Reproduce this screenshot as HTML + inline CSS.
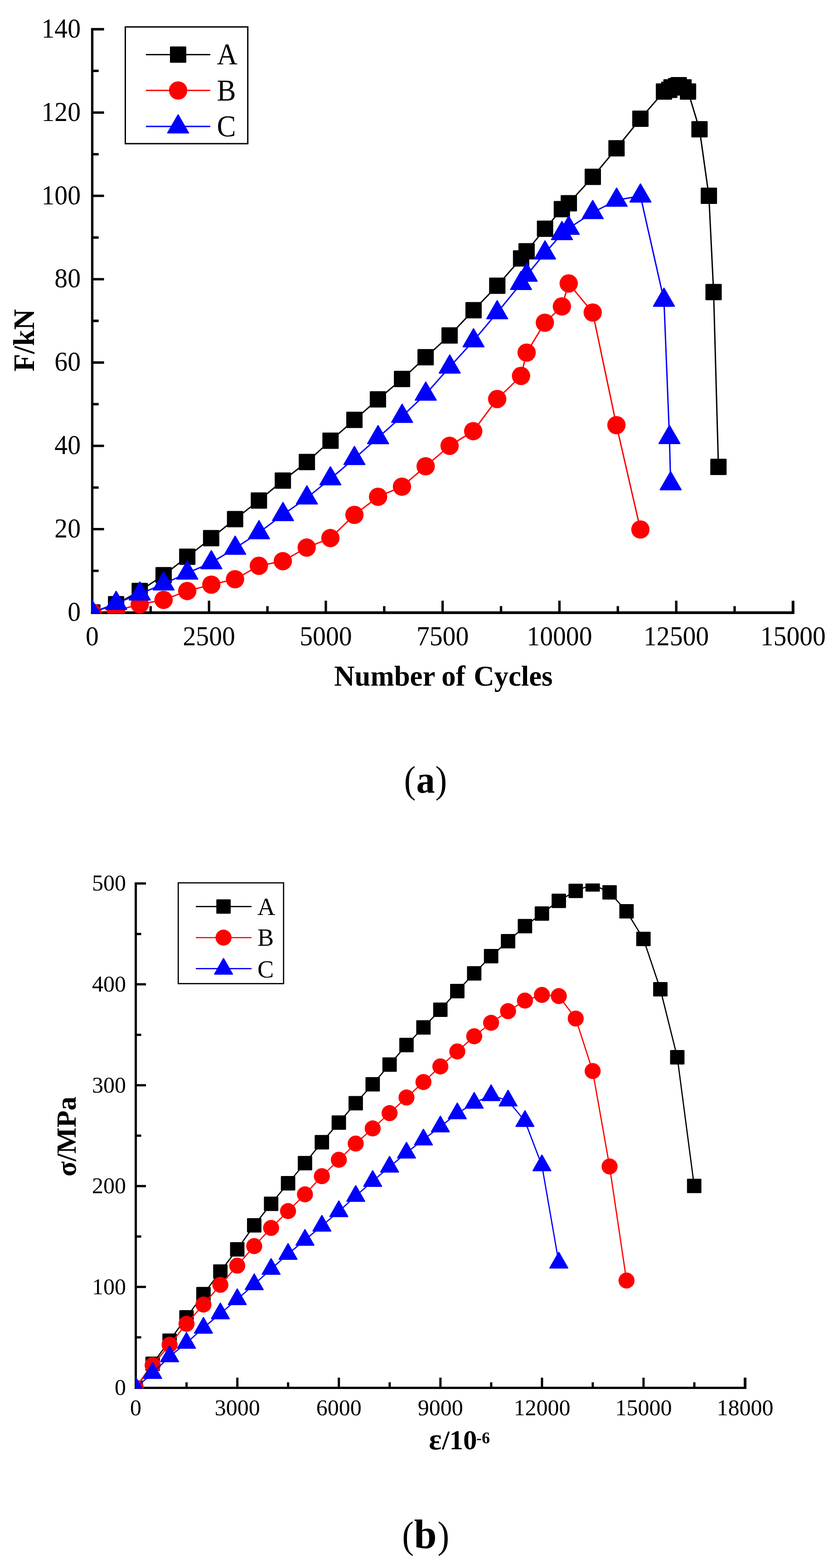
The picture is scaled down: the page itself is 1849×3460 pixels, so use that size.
<!DOCTYPE html>
<html lang="en">
<head>
<meta charset="utf-8">
<title>Load and stress curves</title>
<style>
html,body{margin:0;padding:0;background:#fff;}
body{width:1849px;height:3460px;overflow:hidden;}
svg{display:block;}
text{font-family:"Liberation Serif", serif;fill:#000;}
</style>
</head>
<body>
<svg width="1849" height="3460" viewBox="0 0 1849 3460">
<rect x="0" y="0" width="1849" height="3460" fill="#fff"/>
<defs>
<clipPath id="clipA"><rect x="202.8" y="63.5" width="1550" height="1290.5"/></clipPath>
<clipPath id="clipB"><rect x="298.9" y="1949.6" width="1348.1" height="1114.7"/></clipPath>
</defs>
<!-- chart (a) axes -->
<g stroke="#000" stroke-width="5.3" fill="none" stroke-linecap="butt">
<path d="M229.5,64.5 L203.5,64.5 L203.5,1355"/>
<path stroke-width="5.9" d="M200.8,1352 L1752.8,1352"/>
<path stroke-width="6.1" d="M1749.8,1352 L1749.8,1325.6"/>
<path d="M203.5,1259.7 h14.2 M203.5,1167.7 h26 M203.5,1075.8 h14.2 M203.5,983.9 h26 M203.5,891.9 h14.2 M203.5,800 h26 M203.5,708 h14.2 M203.5,616.1 h26 M203.5,524.2 h14.2 M203.5,432.2 h26 M203.5,340.3 h14.2 M203.5,248.4 h26 M203.5,156.4 h14.2 M332.4,1351.6 v-14.2 M461.2,1351.6 v-26 M590.1,1351.6 v-14.2 M718.9,1351.6 v-26 M847.8,1351.6 v-14.2 M976.6,1351.6 v-26 M1105.5,1351.6 v-14.2 M1234.4,1351.6 v-26 M1363.2,1351.6 v-14.2 M1492.1,1351.6 v-26 M1620.9,1351.6 v-14.2"/>
</g>
<!-- chart (a) tick labels -->
<g>
<text transform="translate(178,1369.9) scale(0.995,1.045)" font-size="58" text-anchor="end">0</text><text transform="translate(178,1186) scale(0.995,1.045)" font-size="58" text-anchor="end">20</text><text transform="translate(178,1002.2) scale(0.995,1.045)" font-size="58" text-anchor="end">40</text><text transform="translate(178,818.3) scale(0.995,1.045)" font-size="58" text-anchor="end">60</text><text transform="translate(178,634.4) scale(0.995,1.045)" font-size="58" text-anchor="end">80</text><text transform="translate(178,450.5) scale(0.995,1.045)" font-size="58" text-anchor="end">100</text><text transform="translate(178,266.7) scale(0.995,1.045)" font-size="58" text-anchor="end">120</text><text transform="translate(178,82.8) scale(0.995,1.045)" font-size="58" text-anchor="end">140</text>
<text transform="translate(203.5,1423.7) scale(0.995,1.045)" font-size="58" text-anchor="middle">0</text><text transform="translate(461.2,1423.7) scale(0.995,1.045)" font-size="58" text-anchor="middle">2500</text><text transform="translate(718.9,1423.7) scale(0.995,1.045)" font-size="58" text-anchor="middle">5000</text><text transform="translate(976.6,1423.7) scale(0.995,1.045)" font-size="58" text-anchor="middle">7500</text><text transform="translate(1234.4,1423.7) scale(0.995,1.045)" font-size="58" text-anchor="middle">10000</text><text transform="translate(1492.1,1423.7) scale(0.995,1.045)" font-size="58" text-anchor="middle">12500</text><text transform="translate(1749.8,1423.7) scale(0.995,1.045)" font-size="58" text-anchor="middle">15000</text>
</g>
<!-- chart (a) series -->
<g clip-path="url(#clipA)">
<polyline fill="none" stroke="#000" stroke-width="3" stroke-linejoin="round" points="203.7,1351.6 256.2,1333.2 308.3,1304.1 361,1269.2 413.2,1228.6 465.9,1187.6 518.7,1145.6 571.3,1104.4 624.1,1060.5 677.1,1019.5 729.3,972.5 782,926.4 833.9,881.3 887.1,836.3 939.1,788.3 992,740.3 1044.9,684.5 1097.2,630.4 1149.8,570.2 1161.9,554.4 1202.6,504.7 1239.7,461.6 1255.1,448.5 1308,390.2 1360.3,327.3 1413,262 1465,201.9 1476.7,198.2 1481.7,192.7 1492,189.9 1497.6,187.9 1508.1,192.7 1518.1,201.9 1543.4,285.2 1564.1,432.1 1574.5,644.4 1585.2,1030.3"/>
<g fill="#000"><rect x="185.7" y="1333.6" width="36" height="36" rx="1.6"/><rect x="238.2" y="1315.2" width="36" height="36" rx="1.6"/><rect x="290.3" y="1286.1" width="36" height="36" rx="1.6"/><rect x="343" y="1251.2" width="36" height="36" rx="1.6"/><rect x="395.2" y="1210.6" width="36" height="36" rx="1.6"/><rect x="447.9" y="1169.6" width="36" height="36" rx="1.6"/><rect x="500.7" y="1127.6" width="36" height="36" rx="1.6"/><rect x="553.3" y="1086.4" width="36" height="36" rx="1.6"/><rect x="606.1" y="1042.5" width="36" height="36" rx="1.6"/><rect x="659.1" y="1001.5" width="36" height="36" rx="1.6"/><rect x="711.3" y="954.5" width="36" height="36" rx="1.6"/><rect x="764" y="908.4" width="36" height="36" rx="1.6"/><rect x="815.9" y="863.3" width="36" height="36" rx="1.6"/><rect x="869.1" y="818.3" width="36" height="36" rx="1.6"/><rect x="921.1" y="770.3" width="36" height="36" rx="1.6"/><rect x="974" y="722.3" width="36" height="36" rx="1.6"/><rect x="1026.9" y="666.5" width="36" height="36" rx="1.6"/><rect x="1079.2" y="612.4" width="36" height="36" rx="1.6"/><rect x="1131.8" y="552.2" width="36" height="36" rx="1.6"/><rect x="1143.9" y="536.4" width="36" height="36" rx="1.6"/><rect x="1184.6" y="486.7" width="36" height="36" rx="1.6"/><rect x="1221.7" y="443.6" width="36" height="36" rx="1.6"/><rect x="1237.1" y="430.5" width="36" height="36" rx="1.6"/><rect x="1290" y="372.2" width="36" height="36" rx="1.6"/><rect x="1342.3" y="309.3" width="36" height="36" rx="1.6"/><rect x="1395" y="244" width="36" height="36" rx="1.6"/><rect x="1447" y="183.9" width="36" height="36" rx="1.6"/><rect x="1458.7" y="180.2" width="36" height="36" rx="1.6"/><rect x="1463.7" y="174.7" width="36" height="36" rx="1.6"/><rect x="1474" y="171.9" width="36" height="36" rx="1.6"/><rect x="1479.6" y="169.9" width="36" height="36" rx="1.6"/><rect x="1490.1" y="174.7" width="36" height="36" rx="1.6"/><rect x="1500.1" y="183.9" width="36" height="36" rx="1.6"/><rect x="1525.4" y="267.2" width="36" height="36" rx="1.6"/><rect x="1546.1" y="414.1" width="36" height="36" rx="1.6"/><rect x="1556.5" y="626.4" width="36" height="36" rx="1.6"/><rect x="1567.2" y="1012.3" width="36" height="36" rx="1.6"/></g>
<polyline fill="none" stroke="#f00" stroke-width="3" stroke-linejoin="round" points="203.7,1351.6 256.2,1347.5 308.4,1333.5 360.9,1323.7 413.1,1304.2 466.3,1290.1 518.6,1278.1 571.2,1248.5 624,1238.3 676.7,1208.3 729,1187.3 782,1136.1 834.2,1096.2 886.9,1073.9 939.2,1028.9 992,983.8 1044.1,951.4 1097,880.5 1149.6,829.5 1162,778.1 1202.2,712.1 1239.8,676.2 1254.8,625.5 1307.8,689.6 1360.1,938.1 1413,1168.4"/>
<g fill="#f00"><circle cx="203.7" cy="1351.6" r="20.2"/><circle cx="256.2" cy="1347.5" r="20.2"/><circle cx="308.4" cy="1333.5" r="20.2"/><circle cx="360.9" cy="1323.7" r="20.2"/><circle cx="413.1" cy="1304.2" r="20.2"/><circle cx="466.3" cy="1290.1" r="20.2"/><circle cx="518.6" cy="1278.1" r="20.2"/><circle cx="571.2" cy="1248.5" r="20.2"/><circle cx="624" cy="1238.3" r="20.2"/><circle cx="676.7" cy="1208.3" r="20.2"/><circle cx="729" cy="1187.3" r="20.2"/><circle cx="782" cy="1136.1" r="20.2"/><circle cx="834.2" cy="1096.2" r="20.2"/><circle cx="886.9" cy="1073.9" r="20.2"/><circle cx="939.2" cy="1028.9" r="20.2"/><circle cx="992" cy="983.8" r="20.2"/><circle cx="1044.1" cy="951.4" r="20.2"/><circle cx="1097" cy="880.5" r="20.2"/><circle cx="1149.6" cy="829.5" r="20.2"/><circle cx="1162" cy="778.1" r="20.2"/><circle cx="1202.2" cy="712.1" r="20.2"/><circle cx="1239.8" cy="676.2" r="20.2"/><circle cx="1254.8" cy="625.5" r="20.2"/><circle cx="1307.8" cy="689.6" r="20.2"/><circle cx="1360.1" cy="938.1" r="20.2"/><circle cx="1413" cy="1168.4" r="20.2"/></g>
<polyline fill="none" stroke="#00f" stroke-width="3" stroke-linejoin="round" points="203.7,1351.6 256.3,1331.4 308.4,1310.7 361,1288.5 413.2,1264.5 466.3,1241.6 518.9,1209.6 571.5,1175.3 624.4,1135.4 677.1,1098.7 729,1056.5 782,1011.7 834.2,965.7 887.2,918.6 939.4,869.7 992.3,809.8 1044.8,752 1097,690 1149.6,625.5 1162.1,607.2 1202.6,558.2 1239.9,515.4 1254.9,503.7 1307.8,469 1360.5,441.6 1413.1,432.4 1465,662.3 1477.1,965.4 1479.7,1067.4"/>
<g fill="#00f" stroke="#00f" stroke-width="2.6" stroke-linejoin="round"><polygon points="203.7,1325.1 180.7,1364.9 226.7,1364.9"/><polygon points="256.3,1304.9 233.3,1344.7 279.3,1344.7"/><polygon points="308.4,1284.2 285.4,1324 331.4,1324"/><polygon points="361,1262 338,1301.8 384,1301.8"/><polygon points="413.2,1238 390.2,1277.8 436.2,1277.8"/><polygon points="466.3,1215.1 443.3,1254.9 489.3,1254.9"/><polygon points="518.9,1183.1 495.9,1222.9 541.9,1222.9"/><polygon points="571.5,1148.8 548.5,1188.6 594.5,1188.6"/><polygon points="624.4,1108.9 601.4,1148.7 647.4,1148.7"/><polygon points="677.1,1072.2 654.1,1112 700.1,1112"/><polygon points="729,1030 706,1069.8 752,1069.8"/><polygon points="782,985.2 759,1025 805,1025"/><polygon points="834.2,939.2 811.2,979 857.2,979"/><polygon points="887.2,892.1 864.2,931.9 910.2,931.9"/><polygon points="939.4,843.2 916.4,883 962.4,883"/><polygon points="992.3,783.3 969.3,823.1 1015.3,823.1"/><polygon points="1044.8,725.5 1021.8,765.3 1067.8,765.3"/><polygon points="1097,663.5 1074,703.3 1120,703.3"/><polygon points="1149.6,599 1126.6,638.8 1172.6,638.8"/><polygon points="1162.1,580.7 1139.1,620.5 1185.1,620.5"/><polygon points="1202.6,531.7 1179.6,571.5 1225.6,571.5"/><polygon points="1239.9,488.9 1216.9,528.7 1262.9,528.7"/><polygon points="1254.9,477.2 1231.9,517 1277.9,517"/><polygon points="1307.8,442.5 1284.8,482.3 1330.8,482.3"/><polygon points="1360.5,415.1 1337.5,454.9 1383.5,454.9"/><polygon points="1413.1,405.9 1390.1,445.7 1436.1,445.7"/><polygon points="1465,635.8 1442,675.6 1488,675.6"/><polygon points="1477.1,938.9 1454.1,978.7 1500.1,978.7"/><polygon points="1479.7,1040.9 1456.7,1080.7 1502.7,1080.7"/></g>
</g>
<!-- chart (a) legend -->
<rect x="276.5" y="59.4" width="270.2" height="257.6" fill="#fff" stroke="#000" stroke-width="3"/>
<line x1="322" y1="120.4" x2="464" y2="120.4" stroke="#000" stroke-width="3"/><g fill="#000"><rect x="375" y="102.4" width="36" height="36" rx="1.6"/></g><text transform="translate(478.6,141.8) scale(0.955,1.03)" font-size="66" text-anchor="start">A</text>
<line x1="322" y1="199.6" x2="464" y2="199.6" stroke="#f00" stroke-width="3"/><g fill="#f00"><circle cx="393" cy="199.6" r="20.2"/></g><text transform="translate(478.6,221.8) scale(0.955,1.03)" font-size="66" text-anchor="start">B</text>
<line x1="322" y1="278.9" x2="464" y2="278.9" stroke="#00f" stroke-width="3"/><g fill="#00f" stroke="#00f" stroke-width="2.6" stroke-linejoin="round"><polygon points="393,253.5 370,293.3 416,293.3"/></g><text transform="translate(478.6,300.5) scale(0.955,1.03)" font-size="66" text-anchor="start">C</text>
<!-- chart (a) titles -->
<text transform="translate(738,1512.6) scale(0.988,0.985)" font-size="63.5" font-weight="bold" text-anchor="start"><tspan x="-0.7">Number</tspan> <tspan x="239.2">of</tspan> <tspan x="311.0">Cycles</tspan></text>
<text transform="translate(74.9,751) rotate(-90) scale(1,1.03)" font-size="63.5" text-anchor="middle" font-weight="bold">F/kN</text>
<text y="1748.5" font-size="85"><tspan x="891.4" textLength="25.8" lengthAdjust="spacingAndGlyphs">(</tspan><tspan x="918.4" font-weight="bold" font-size="84" textLength="41.2" lengthAdjust="spacingAndGlyphs">a</tspan><tspan x="960.4" textLength="25.8" lengthAdjust="spacingAndGlyphs">)</tspan></text>
<!-- chart (b) axes -->
<g stroke="#000" stroke-width="5" fill="none" stroke-linecap="butt">
<path d="M322,1949.6 L299.6,1949.6 L299.6,3064.9"/>
<path stroke-width="5" d="M297.1,3062.4 L1647,3062.4"/>
<path stroke-width="6" d="M1644,3062.4 L1644,3039.9"/>
<path d="M299.6,2951 h12 M299.6,2839.8 h22.4 M299.6,2728.5 h12 M299.6,2617.2 h22.4 M299.6,2505.9 h12 M299.6,2394.7 h22.4 M299.6,2283.4 h12 M299.6,2172.1 h22.4 M299.6,2060.9 h12 M411.6,3062.3 v-12 M523.7,3062.3 v-22.4 M635.7,3062.3 v-12 M747.7,3062.3 v-22.4 M859.8,3062.3 v-12 M971.8,3062.3 v-22.4 M1083.8,3062.3 v-12 M1195.9,3062.3 v-22.4 M1307.9,3062.3 v-12 M1419.9,3062.3 v-22.4 M1532,3062.3 v-12"/>
</g>
<!-- chart (b) tick labels -->
<g>
<text transform="translate(278,3078.1) scale(1,1.02)" font-size="50" text-anchor="end">0</text><text transform="translate(278,2855.6) scale(1,1.02)" font-size="50" text-anchor="end">100</text><text transform="translate(278,2633) scale(1,1.02)" font-size="50" text-anchor="end">200</text><text transform="translate(278,2410.5) scale(1,1.02)" font-size="50" text-anchor="end">300</text><text transform="translate(278,2187.9) scale(1,1.02)" font-size="50" text-anchor="end">400</text><text transform="translate(278,1965.4) scale(1,1.02)" font-size="50" text-anchor="end">500</text>
<text transform="translate(299.6,3123.3) scale(1,1.02)" font-size="50" text-anchor="middle">0</text><text transform="translate(523.7,3123.3) scale(1,1.02)" font-size="50" text-anchor="middle">3000</text><text transform="translate(747.7,3123.3) scale(1,1.02)" font-size="50" text-anchor="middle">6000</text><text transform="translate(971.8,3123.3) scale(1,1.02)" font-size="50" text-anchor="middle">9000</text><text transform="translate(1195.9,3123.3) scale(1,1.02)" font-size="50" text-anchor="middle">12000</text><text transform="translate(1419.9,3123.3) scale(1,1.02)" font-size="50" text-anchor="middle">15000</text><text transform="translate(1644,3123.3) scale(1,1.02)" font-size="50" text-anchor="middle">18000</text>
</g>
<!-- chart (b) series -->
<g clip-path="url(#clipB)">
<polyline fill="none" stroke="#000" stroke-width="2.7" stroke-linejoin="round" points="299.5,3062.3 336.8,3009.3 374.2,2958.3 411.5,2907 448.9,2855.7 486.2,2805.8 523.5,2756.9 560.9,2703.8 598.2,2656.4 635.6,2611 672.9,2566.7 710.2,2520.5 747.6,2477.2 784.9,2434.4 822.3,2392.7 859.6,2349.1 896.9,2306 934.3,2267.1 971.6,2228.2 1009,2187 1046.3,2147.8 1083.6,2109.9 1121,2076.9 1158.3,2043.7 1195.7,2015.8 1233,1987.8 1270.3,1965.8 1307.7,1951.7 1345,1969.1 1382.4,2010.9 1419.7,2071.9 1457,2182.9 1494.4,2333 1531.7,2616.9"/>
<g fill="#000"><rect x="283.6" y="3046.4" width="31.8" height="31.8" rx="1.6"/><rect x="320.9" y="2993.4" width="31.8" height="31.8" rx="1.6"/><rect x="358.3" y="2942.4" width="31.8" height="31.8" rx="1.6"/><rect x="395.6" y="2891.1" width="31.8" height="31.8" rx="1.6"/><rect x="433" y="2839.8" width="31.8" height="31.8" rx="1.6"/><rect x="470.3" y="2789.9" width="31.8" height="31.8" rx="1.6"/><rect x="507.6" y="2741" width="31.8" height="31.8" rx="1.6"/><rect x="545" y="2687.9" width="31.8" height="31.8" rx="1.6"/><rect x="582.3" y="2640.5" width="31.8" height="31.8" rx="1.6"/><rect x="619.7" y="2595.1" width="31.8" height="31.8" rx="1.6"/><rect x="657" y="2550.8" width="31.8" height="31.8" rx="1.6"/><rect x="694.3" y="2504.6" width="31.8" height="31.8" rx="1.6"/><rect x="731.7" y="2461.3" width="31.8" height="31.8" rx="1.6"/><rect x="769" y="2418.5" width="31.8" height="31.8" rx="1.6"/><rect x="806.4" y="2376.8" width="31.8" height="31.8" rx="1.6"/><rect x="843.7" y="2333.2" width="31.8" height="31.8" rx="1.6"/><rect x="881" y="2290.1" width="31.8" height="31.8" rx="1.6"/><rect x="918.4" y="2251.2" width="31.8" height="31.8" rx="1.6"/><rect x="955.7" y="2212.3" width="31.8" height="31.8" rx="1.6"/><rect x="993.1" y="2171.1" width="31.8" height="31.8" rx="1.6"/><rect x="1030.4" y="2131.9" width="31.8" height="31.8" rx="1.6"/><rect x="1067.7" y="2094" width="31.8" height="31.8" rx="1.6"/><rect x="1105.1" y="2061" width="31.8" height="31.8" rx="1.6"/><rect x="1142.4" y="2027.8" width="31.8" height="31.8" rx="1.6"/><rect x="1179.8" y="1999.9" width="31.8" height="31.8" rx="1.6"/><rect x="1217.1" y="1971.9" width="31.8" height="31.8" rx="1.6"/><rect x="1254.4" y="1949.9" width="31.8" height="31.8" rx="1.6"/><rect x="1291.8" y="1935.8" width="31.8" height="31.8" rx="1.6"/><rect x="1329.1" y="1953.2" width="31.8" height="31.8" rx="1.6"/><rect x="1366.5" y="1995" width="31.8" height="31.8" rx="1.6"/><rect x="1403.8" y="2056" width="31.8" height="31.8" rx="1.6"/><rect x="1441.1" y="2167" width="31.8" height="31.8" rx="1.6"/><rect x="1478.5" y="2317.1" width="31.8" height="31.8" rx="1.6"/><rect x="1515.8" y="2601" width="31.8" height="31.8" rx="1.6"/></g>
<polyline fill="none" stroke="#f00" stroke-width="2.7" stroke-linejoin="round" points="299.5,3062.3 336.8,3012.4 374.2,2967.3 411.5,2921.2 448.9,2878.7 486.2,2835.1 523.5,2792.9 560.9,2749.7 598.2,2709.6 635.6,2672.5 672.9,2635.5 710.2,2595.4 747.6,2559.2 784.9,2523.4 822.3,2490 859.6,2456.3 896.9,2421.8 934.3,2387.7 971.6,2353.2 1009,2320.2 1046.3,2286.7 1083.6,2257 1121,2231.3 1158.3,2207.9 1195.7,2195.4 1233,2198 1270.3,2247.6 1307.7,2363.4 1345,2574 1382.4,2825.7"/>
<g fill="#f00"><circle cx="299.5" cy="3062.3" r="17.7"/><circle cx="336.8" cy="3012.4" r="17.7"/><circle cx="374.2" cy="2967.3" r="17.7"/><circle cx="411.5" cy="2921.2" r="17.7"/><circle cx="448.9" cy="2878.7" r="17.7"/><circle cx="486.2" cy="2835.1" r="17.7"/><circle cx="523.5" cy="2792.9" r="17.7"/><circle cx="560.9" cy="2749.7" r="17.7"/><circle cx="598.2" cy="2709.6" r="17.7"/><circle cx="635.6" cy="2672.5" r="17.7"/><circle cx="672.9" cy="2635.5" r="17.7"/><circle cx="710.2" cy="2595.4" r="17.7"/><circle cx="747.6" cy="2559.2" r="17.7"/><circle cx="784.9" cy="2523.4" r="17.7"/><circle cx="822.3" cy="2490" r="17.7"/><circle cx="859.6" cy="2456.3" r="17.7"/><circle cx="896.9" cy="2421.8" r="17.7"/><circle cx="934.3" cy="2387.7" r="17.7"/><circle cx="971.6" cy="2353.2" r="17.7"/><circle cx="1009" cy="2320.2" r="17.7"/><circle cx="1046.3" cy="2286.7" r="17.7"/><circle cx="1083.6" cy="2257" r="17.7"/><circle cx="1121" cy="2231.3" r="17.7"/><circle cx="1158.3" cy="2207.9" r="17.7"/><circle cx="1195.7" cy="2195.4" r="17.7"/><circle cx="1233" cy="2198" r="17.7"/><circle cx="1270.3" cy="2247.6" r="17.7"/><circle cx="1307.7" cy="2363.4" r="17.7"/><circle cx="1345" cy="2574" r="17.7"/><circle cx="1382.4" cy="2825.7" r="17.7"/></g>
<polyline fill="none" stroke="#00f" stroke-width="2.7" stroke-linejoin="round" points="299.5,3062.3 336.8,3030 374.2,2993.2 411.5,2963.5 448.9,2930.1 486.2,2898.4 523.5,2867.1 560.9,2834.2 598.2,2800.3 635.6,2767.1 672.9,2736.1 710.2,2705 747.6,2673 784.9,2639.2 822.3,2606.2 859.6,2574.7 896.9,2543.6 934.3,2514.8 971.6,2485.9 1009,2457 1046.3,2433.7 1083.6,2417 1121,2428.8 1158.3,2474 1195.7,2571.8 1233,2786.4"/>
<g fill="#00f" stroke="#00f" stroke-width="2.6" stroke-linejoin="round"><polygon points="299.5,3039.5 279.9,3073.8 319.1,3073.8"/><polygon points="336.8,3007.2 317.2,3041.5 356.4,3041.5"/><polygon points="374.2,2970.4 354.6,3004.7 393.8,3004.7"/><polygon points="411.5,2940.7 391.9,2975 431.1,2975"/><polygon points="448.9,2907.3 429.3,2941.6 468.5,2941.6"/><polygon points="486.2,2875.6 466.6,2909.9 505.8,2909.9"/><polygon points="523.5,2844.3 503.9,2878.6 543.1,2878.6"/><polygon points="560.9,2811.4 541.3,2845.7 580.5,2845.7"/><polygon points="598.2,2777.5 578.6,2811.8 617.8,2811.8"/><polygon points="635.6,2744.3 616,2778.6 655.2,2778.6"/><polygon points="672.9,2713.3 653.3,2747.6 692.5,2747.6"/><polygon points="710.2,2682.2 690.6,2716.5 729.8,2716.5"/><polygon points="747.6,2650.2 728,2684.5 767.2,2684.5"/><polygon points="784.9,2616.4 765.3,2650.7 804.5,2650.7"/><polygon points="822.3,2583.4 802.7,2617.7 841.9,2617.7"/><polygon points="859.6,2551.9 840,2586.2 879.2,2586.2"/><polygon points="896.9,2520.8 877.3,2555.1 916.5,2555.1"/><polygon points="934.3,2492 914.7,2526.3 953.9,2526.3"/><polygon points="971.6,2463.1 952,2497.4 991.2,2497.4"/><polygon points="1009,2434.2 989.4,2468.5 1028.6,2468.5"/><polygon points="1046.3,2410.9 1026.7,2445.2 1065.9,2445.2"/><polygon points="1083.6,2394.2 1064,2428.5 1103.2,2428.5"/><polygon points="1121,2406 1101.4,2440.3 1140.6,2440.3"/><polygon points="1158.3,2451.2 1138.7,2485.5 1177.9,2485.5"/><polygon points="1195.7,2549 1176.1,2583.3 1215.3,2583.3"/><polygon points="1233,2763.6 1213.4,2797.9 1252.6,2797.9"/></g>
</g>
<!-- chart (b) legend -->
<rect x="393.3" y="1948.1" width="232.4" height="222.4" fill="#fff" stroke="#000" stroke-width="2.7"/>
<line x1="432" y1="2000.3" x2="555" y2="2000.3" stroke="#000" stroke-width="2.7"/><g fill="#000"><rect x="477.3" y="1984.4" width="31.8" height="31.8" rx="1.6"/></g><text transform="translate(568,2018.8) scale(0.97,1)" font-size="56" text-anchor="start">A</text>
<line x1="432" y1="2069" x2="555" y2="2069" stroke="#f00" stroke-width="2.7"/><g fill="#f00"><circle cx="493.2" cy="2069" r="17.7"/></g><text transform="translate(568,2087.3) scale(0.97,1)" font-size="56" text-anchor="start">B</text>
<line x1="432" y1="2137.4" x2="555" y2="2137.4" stroke="#00f" stroke-width="2.7"/><g fill="#00f" stroke="#00f" stroke-width="2.6" stroke-linejoin="round"><polygon points="493.2,2115.2 473.6,2149.5 512.8,2149.5"/></g><text transform="translate(568,2157) scale(0.97,1)" font-size="56" text-anchor="start">C</text>
<!-- chart (b) titles -->
<text y="3197.9" font-size="61" font-weight="bold"><tspan x="946.3" font-size="66">ε</tspan><tspan x="975.3" font-size="60">/</tspan><tspan x="991.5">10</tspan><tspan x="1051.0" y="3184.8" font-size="36">-6</tspan></text>
<text transform="translate(166.9,2508) rotate(-90) scale(0.965,0.95)" font-size="63.5" text-anchor="middle" font-weight="bold">σ/MPa</text>
<text y="3416.3" font-size="85"><tspan x="887.3" textLength="25.8" lengthAdjust="spacingAndGlyphs">(</tspan><tspan x="913.6" font-weight="bold" font-size="90">b</tspan><tspan x="965.4" textLength="25.8" lengthAdjust="spacingAndGlyphs">)</tspan></text>
</svg>
</body>
</html>
